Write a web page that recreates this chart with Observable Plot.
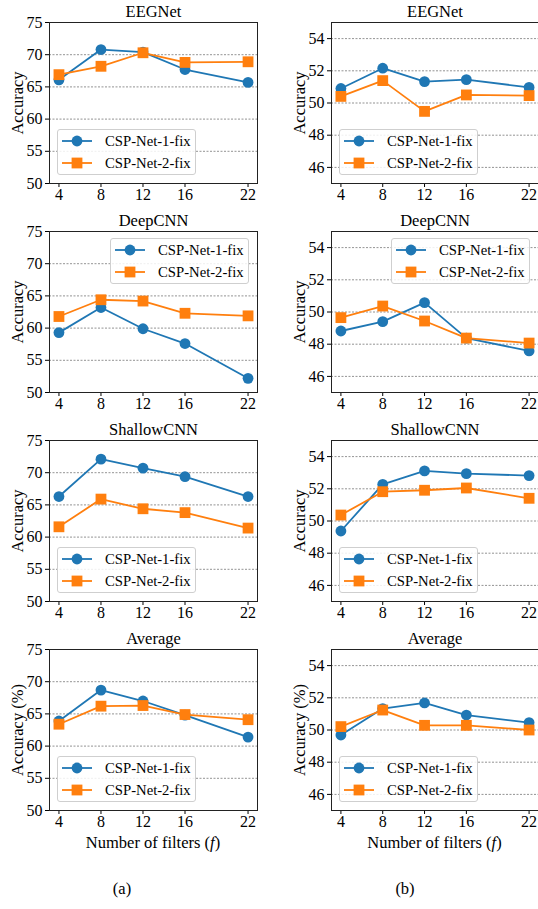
<!DOCTYPE html>
<html>
<head>
<meta charset="utf-8">
<script src="https://cdn.jsdelivr.net/npm/d3@7"></script>
<script src="https://cdn.jsdelivr.net/npm/@observablehq/plot@0.6"></script>
<style>
  body { margin: 0; background: white; }
  #root { position: relative; width: 538px; height: 909px; background: white; overflow: hidden;
          font-family: "Liberation Serif", "Times New Roman", Times, "DejaVu Serif", serif; color: black; }
  .abs { position: absolute; }
  .lbl { position: absolute; font-size: 16.5px; white-space: nowrap; transform: translate(-50%, -50%); }
</style>
</head>
<body>
<div id="root"></div>
<script>
// ---- data ----
const filters = [4, 8, 12, 16, 22];
const seriesNames = ["CSP-Net-1-fix", "CSP-Net-2-fix"];
const seriesColors = ["#1f77b4", "#ff7f0e"];

// column (a)
const eegnetA1 = [66.1, 70.8, 70.4, 67.7, 65.7];
const eegnetA2 = [66.9, 68.2, 70.3, 68.8, 68.9];
const deepA1 = [59.3, 63.2, 59.9, 57.6, 52.2];
const deepA2 = [61.8, 64.4, 64.2, 62.3, 61.9];
const shallowA1 = [66.3, 72.1, 70.7, 69.4, 66.3];
const shallowA2 = [61.6, 65.9, 64.4, 63.8, 61.4];
const avgA1 = [63.9, 68.7, 67.0, 64.8, 61.4];
const avgA2 = [63.4, 66.2, 66.3, 64.9, 64.1];

// column (b)
const eegnetB1 = [50.90, 52.16, 51.33, 51.45, 50.97];
const eegnetB2 = [50.41, 51.39, 49.48, 50.50, 50.46];
const deepB1 = [48.82, 49.40, 50.58, 48.38, 47.58];
const deepB2 = [49.65, 50.37, 49.44, 48.38, 48.07];
const shallowB1 = [49.38, 52.28, 53.11, 52.94, 52.82];
const shallowB2 = [50.37, 51.82, 51.91, 52.05, 51.41];
const avgB1 = [49.69, 51.33, 51.68, 50.93, 50.46];
const avgB2 = [50.21, 51.24, 50.29, 50.29, 50.00];

const titles = ["EEGNet", "DeepCNN", "ShallowCNN", "Average"];
const yTicksA = [50, 55, 60, 65, 70, 75];
const yTicksB = [46, 48, 50, 52, 54];
const captions = ["(a)", "(b)"];

const panels = [
  {row: 0, col: 0, s1: eegnetA1, s2: eegnetA2, legend: "bl"},
  {row: 0, col: 1, s1: eegnetB1, s2: eegnetB2, legend: "bl"},
  {row: 1, col: 0, s1: deepA1, s2: deepA2, legend: "tr"},
  {row: 1, col: 1, s1: deepB1, s2: deepB2, legend: "tr"},
  {row: 2, col: 0, s1: shallowA1, s2: shallowA2, legend: "bl"},
  {row: 2, col: 1, s1: shallowB1, s2: shallowB2, legend: "bl"},
  {row: 3, col: 0, s1: avgA1, s2: avgA2, legend: "bl"},
  {row: 3, col: 1, s1: avgB1, s2: avgB2, legend: "bl"}
];

// ---- layout ----
const root = document.getElementById("root");
const rowH = 209, mTop = 22, mBottom = 26;
const colDefs = [
  {left: 0, width: 269, mLeft: 49, mRight: 12, domain: [50, 75], ticks: yTicksA},
  {left: 269, width: 269, mLeft: 62, mRight: 0, domain: [45, 55], ticks: yTicksB}
];
const font = "'Liberation Serif', 'Times New Roman', Times, 'DejaVu Serif', serif";

for (const p of panels) {
  const c = colDefs[p.col];
  const d1 = filters.map((f, i) => ({f, v: p.s1[i]}));
  const d2 = filters.map((f, i) => ({f, v: p.s2[i]}));
  const ylabel = p.row === 3 ? "Accuracy (%)" : "Accuracy";
  const chart = Plot.plot({
    width: c.width,
    height: rowH,
    marginTop: mTop,
    marginBottom: mBottom,
    marginLeft: c.mLeft,
    marginRight: c.mRight,
    style: {fontFamily: font, fontSize: "16px", color: "black", background: "transparent", overflow: "visible"},
    x: {domain: [3.1, 22.9]},
    y: {domain: c.domain},
    marks: [
      Plot.gridY(c.ticks, {stroke: "#777", strokeOpacity: 1, strokeWidth: 0.8, strokeDasharray: "2,1.5"}),
      Plot.axisX(filters, {tickSize: 4, tickPadding: 1, label: null, fontSize: 16, tickFormat: d => String(d)}),
      Plot.axisY(c.ticks, {tickSize: 4, tickPadding: 3, label: null, fontSize: 16, tickFormat: d => String(d)}),
      Plot.line(d1, {x: "f", y: "v", stroke: seriesColors[0], strokeWidth: 1.8}),
      Plot.dot(d1, {x: "f", y: "v", r: 5.4, fill: seriesColors[0], stroke: null}),
      Plot.line(d2, {x: "f", y: "v", stroke: seriesColors[1], strokeWidth: 1.8}),
      Plot.dot(d2, {x: "f", y: "v", symbol: "square", r: 6.1, fill: seriesColors[1], stroke: null}),
      Plot.frame({stroke: "#222", strokeWidth: 1}),
      Plot.text([titles[p.row]], {frameAnchor: "top", dy: -11, lineAnchor: "middle", fontSize: 16.5}),
      Plot.text([ylabel], {frameAnchor: "left", dx: -32, rotate: -90, lineAnchor: "middle", textAnchor: "middle", fontSize: 16.5})
    ]
  });
  chart.classList.add("abs");
  chart.style.left = c.left + "px";
  chart.style.top = (p.row * rowH) + "px";
  chart.style.fontFamily = font;
  root.appendChild(chart);

  // legend box
  const fl = c.left + c.mLeft, fr = c.left + c.width - c.mRight;
  const ft = p.row * rowH + mTop, fb = (p.row + 1) * rowH - mBottom;
  const lw = 139, lh = 46;
  let lx, ly;
  if (p.legend === "bl") { lx = fl + 8; ly = fb - 8 - lh; }
  else { lx = fr - 8 - lw; ly = ft + 7; }
  const box = document.createElement("div");
  box.className = "abs";
  Object.assign(box.style, {left: lx + "px", top: ly + "px", width: lw + "px", height: lh + "px",
    border: "1px solid #cfcfcf", borderRadius: "3px", background: "rgba(255,255,255,0.85)", boxSizing: "border-box"});
  const svg = d3.create("svg").attr("width", lw - 2).attr("height", lh - 2).style("display", "block");
  seriesNames.forEach((name, i) => {
    const cy = 11 + i * 22;
    svg.append("line").attr("x1", 4).attr("x2", 34).attr("y1", cy).attr("y2", cy)
      .attr("stroke", seriesColors[i]).attr("stroke-width", 1.8);
    if (i === 0) svg.append("circle").attr("cx", 19).attr("cy", cy).attr("r", 5.4).attr("fill", seriesColors[i]);
    else svg.append("rect").attr("x", 19 - 5.4).attr("y", cy - 5.4).attr("width", 10.8).attr("height", 10.8).attr("fill", seriesColors[i]);
    svg.append("text").attr("x", 47).attr("y", cy).attr("dy", "0.35em")
      .style("font-family", font).attr("font-size", 14.7).attr("fill", "black").text(name);
  });
  box.appendChild(svg.node());
  root.appendChild(box);
}

// x-axis labels and captions
const xl = [153, 434.5];
xl.forEach(x => {
  const d = document.createElement("div");
  d.className = "lbl";
  d.style.left = x + "px"; d.style.top = "843px";
  d.innerHTML = "Number of filters (<i>f</i>)";
  root.appendChild(d);
});
const capX = [122, 405];
captions.forEach((t, i) => {
  const d = document.createElement("div");
  d.className = "lbl";
  d.style.left = capX[i] + "px"; d.style.top = "889px";
  d.textContent = t;
  root.appendChild(d);
});
</script>
</body>
</html>
